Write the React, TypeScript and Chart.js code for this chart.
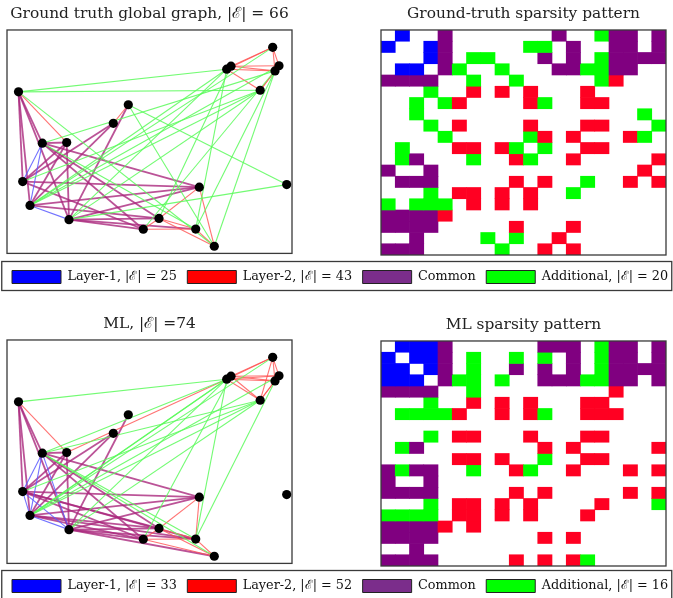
import React, { useEffect, useRef } from "react";
import { Chart, registerables } from "chart.js";
Chart.register(...registerables);

type Edge = [number, number];

// node layout coordinates (data units)
const nodeX = [15.7, 35.3, 62, 23, 11.5, 265.7, 219.7, 279.7, 272, 207.3, 268, 188.7, 106.3, 152, 224, 253.2, 59.7, 192.3, 121.3, 136.3];
const nodeY = [72.3, 111, 34, 48.3, 162.7, 207.5, 185.5, 69.3, 189, 7.2, 183.8, 24.5, 131, 35.2, 188.5, 164.3, 111.7, 66.7, 149.7, 24.3];

// Ground truth edges
const gtLayer1: Edge[] = [[0, 1], [1, 3], [2, 3]];
const gtCommon: Edge[] = [[0, 4], [0, 12], [0, 16], [0, 17], [0, 19], [1, 4], [1, 13], [1, 16], [1, 17], [1, 19], [2, 4], [2, 11], [2, 13], [2, 16], [2, 17], [2, 18], [2, 19], [3, 4], [3, 12], [3, 13], [3, 16], [3, 17]];
const gtLayer2: Edge[] = [[4, 16], [5, 6], [5, 8], [5, 10], [5, 14], [6, 10], [6, 14], [6, 15], [8, 10], [8, 14], [8, 15], [9, 11], [9, 13], [9, 17], [10, 14], [10, 15], [11, 13], [11, 19], [12, 18], [13, 17], [13, 19]];
const gtAdditional: Edge[] = [[0, 15], [1, 10], [1, 11], [2, 6], [2, 7], [2, 15], [3, 5], [3, 8], [3, 14], [3, 15], [4, 6], [4, 9], [4, 15], [6, 11], [7, 18], [8, 19], [9, 10], [9, 18], [10, 11], [13, 14]];

// ML edges
const mlLayer1: Edge[] = [[0, 1], [0, 2], [0, 3], [1, 2], [1, 3], [2, 3]];
const mlCommon: Edge[] = [[0, 4], [0, 11], [0, 12], [0, 13], [0, 16], [0, 17], [0, 19], [1, 4], [1, 13], [1, 16], [1, 17], [1, 19], [2, 4], [2, 9], [2, 11], [2, 13], [2, 16], [2, 17], [2, 18], [2, 19], [3, 4], [3, 11], [3, 12], [3, 13], [3, 16], [3, 17], [3, 19]];
const mlLayer2: Edge[] = [[4, 16], [5, 6], [5, 8], [5, 10], [5, 14], [5, 15], [6, 8], [6, 10], [6, 14], [6, 15], [6, 16], [8, 10], [8, 14], [8, 15], [9, 11], [9, 13], [9, 19], [10, 14], [10, 15], [11, 13], [11, 17], [11, 19], [13, 17], [13, 19], [14, 15]];
const mlAdditional: Edge[] = [[0, 15], [1, 6], [1, 9], [1, 11], [1, 15], [2, 6], [2, 15], [3, 5], [3, 6], [3, 8], [3, 14], [3, 15], [4, 6], [6, 11], [10, 11], [14, 19]];

const gtLegendLabels = ["Layer-1, |ℰ| = 25", "Layer-2, |ℰ| = 43", "Common", "Additional, |ℰ| = 20"];
const mlLegendLabels = ["Layer-1, |ℰ| = 33", "Layer-2, |ℰ| = 52", "Common", "Additional, |ℰ| = 16"];

const gtGraphTitle = "Ground truth global graph, |ℰ| = 66";
const gtMatrixTitle = "Ground-truth sparsity pattern";
const mlGraphTitle = "ML, |ℰ| =74";
const mlMatrixTitle = "ML sparsity pattern";

const N = 20;
const FONT = "'DejaVu Serif', 'Liberation Serif', serif";

const lineColors = {
  layer1: "rgba(90,90,255,0.85)",
  layer2: "rgba(255,80,80,0.8)",
  common: "rgba(170,40,125,0.8)",
  additional: "rgba(90,250,90,0.85)",
};
const cellColors = {
  layer1: "#0000ff",
  layer2: "#ff0022",
  common: "#800080",
  additional: "#00ff00",
};
const legendColors = ["#0000ff", "#ff0000", "#7b2d8b", "#00ff00"];

type Groups = { layer1: Edge[]; layer2: Edge[]; common: Edge[]; additional: Edge[] };
const gtGroups: Groups = { layer1: gtLayer1, layer2: gtLayer2, common: gtCommon, additional: gtAdditional };
const mlGroups: Groups = { layer1: mlLayer1, layer2: mlLayer2, common: mlCommon, additional: mlAdditional };

const framePlugin = (legendBox = false) => ({
  id: "frame",
  afterDraw(chart: any) {
    const ctx = chart.ctx;
    ctx.save();
    ctx.strokeStyle = "#3a3a3a";
    ctx.lineWidth = 1.3;
    if (legendBox) {
      ctx.strokeRect(0.75, 1.5, 670, 29);
    } else {
      const a = chart.chartArea;
      ctx.strokeRect(a.left, a.top, a.right - a.left, a.bottom - a.top);
    }
    ctx.restore();
  },
});

const titleOpts = (text: string) => ({
  display: true,
  text,
  color: "#222",
  font: { family: FONT, size: 15.4, weight: "normal" as const, lineHeight: 1.2 },
  padding: { top: 4.5, bottom: 7 },
});

function GraphChart({ groups, title }: { groups: Groups; title: string }) {
  const ref = useRef<HTMLCanvasElement>(null);
  useEffect(() => {
    const datasets: any[] = [];
    const order: (keyof Groups)[] = ["common", "layer1", "layer2", "additional"];
    order.forEach((k, gi) => {
      groups[k].forEach(([a, b]) => {
        datasets.push({
          type: "scatter",
          data: [
            { x: nodeX[a], y: nodeY[a] },
            { x: nodeX[b], y: nodeY[b] },
          ],
          showLine: true,
          borderColor: lineColors[k],
          borderWidth: k === "common" ? 1.8 : 1.1,
          pointRadius: 0,
          fill: false,
          order: 10 - gi,
          clip: false,
        });
      });
    });
    datasets.push({
      type: "scatter",
      data: nodeX.map((x, i) => ({ x, y: nodeY[i] })),
      pointRadius: 4.6,
      pointBackgroundColor: "#000",
      pointBorderColor: "#000",
      pointBorderWidth: 0,
      order: 0,
      clip: false,
    });
    const chart = new Chart(ref.current!, {
      type: "scatter",
      data: { datasets },
      options: {
        responsive: false,
        animation: false,
        layout: { padding: { left: 7, right: 8, top: 0, bottom: 3 } },
        scales: {
          x: { type: "linear", min: 0, max: 285, display: false },
          y: { type: "linear", min: 0, max: 225, display: false },
        },
        plugins: {
          legend: { display: false },
          tooltip: { enabled: false },
          title: titleOpts(title),
        },
      },
      plugins: [framePlugin()],
    });
    return () => chart.destroy();
  }, []);
  return <canvas ref={ref} width={300} height={258} />;
}

function MatrixChart({ groups, title }: { groups: Groups; title: string }) {
  const ref = useRef<HTMLCanvasElement>(null);
  useEffect(() => {
    const cells: (string | null)[][] = Array.from({ length: N }, () => Array(N).fill(null));
    (Object.keys(groups) as (keyof Groups)[]).forEach((k) => {
      groups[k].forEach(([a, b]) => {
        cells[a][b] = cellColors[k];
        cells[b][a] = cellColors[k];
      });
    });
    const labels = Array.from({ length: N }, (_, i) => String(i));
    const datasets = cells.map((row, r) => ({
      data: row.map((c) => (c ? [r, r + 1] : null)),
      backgroundColor: row.map((c) => c || "rgba(0,0,0,0)"),
      borderWidth: 0,
      grouped: false,
      barPercentage: 1,
      categoryPercentage: 1,
    }));
    const chart = new Chart(ref.current!, {
      type: "bar",
      data: { labels, datasets: datasets as any },
      options: {
        responsive: false,
        animation: false,
        layout: { padding: { left: 11, right: 7, top: 0, bottom: 3 } },
        scales: {
          x: { type: "category", display: false, offset: true },
          y: { type: "linear", min: 0, max: N, reverse: true, display: false },
        },
        plugins: {
          legend: { display: false },
          tooltip: { enabled: false },
          title: titleOpts(title),
        },
      },
      plugins: [framePlugin()],
    });
    return () => chart.destroy();
  }, []);
  return <canvas ref={ref} width={303} height={258} />;
}

function LegendChart({ labels }: { labels: string[] }) {
  const ref = useRef<HTMLCanvasElement>(null);
  useEffect(() => {
    const chart = new Chart(ref.current!, {
      type: "bar",
      data: {
        labels: [""],
        datasets: labels.map((l, i) => ({
          label: l,
          data: [],
          backgroundColor: legendColors[i],
          borderColor: "#222",
          borderWidth: 1,
        })),
      },
      options: {
        responsive: false,
        animation: false,
        layout: { padding: { top: 0, left: 0.5, right: 0, bottom: 0 } },
        scales: { x: { display: false }, y: { display: false } },
        plugins: {
          tooltip: { enabled: false },
          legend: {
            display: true,
            position: "top",
            align: "start",
            onClick: () => {},
            labels: {
              boxWidth: 49,
              boxHeight: 13,
              padding: 10.5,
              color: "#111",
              font: { family: FONT, size: 12.8 },
            },
          },
        },
      },
      plugins: [framePlugin(true)],
    });
    return () => chart.destroy();
  }, []);
  return <canvas ref={ref} width={760} height={80} />;
}

export default function App() {
  const abs = (left: number, top: number): React.CSSProperties => ({ position: "absolute", left, top });
  return (
    <div style={{ position: "absolute", left: 0, top: 0, width: 673, height: 598, background: "#fff", overflow: "hidden" }}>
      <div style={abs(0, 0)}>
        <GraphChart groups={gtGroups} title={gtGraphTitle} />
      </div>
      <div style={abs(370, 0)}>
        <MatrixChart groups={gtGroups} title={gtMatrixTitle} />
      </div>
      <div style={abs(0, 310)}>
        <GraphChart groups={mlGroups} title={mlGraphTitle} />
      </div>
      <div style={abs(370, 311)}>
        <MatrixChart groups={mlGroups} title={mlMatrixTitle} />
      </div>
      <div style={abs(1, 260)}>
        <LegendChart labels={gtLegendLabels} />
      </div>
      <div style={abs(1, 569)}>
        <LegendChart labels={mlLegendLabels} />
      </div>
    </div>
  );
}
